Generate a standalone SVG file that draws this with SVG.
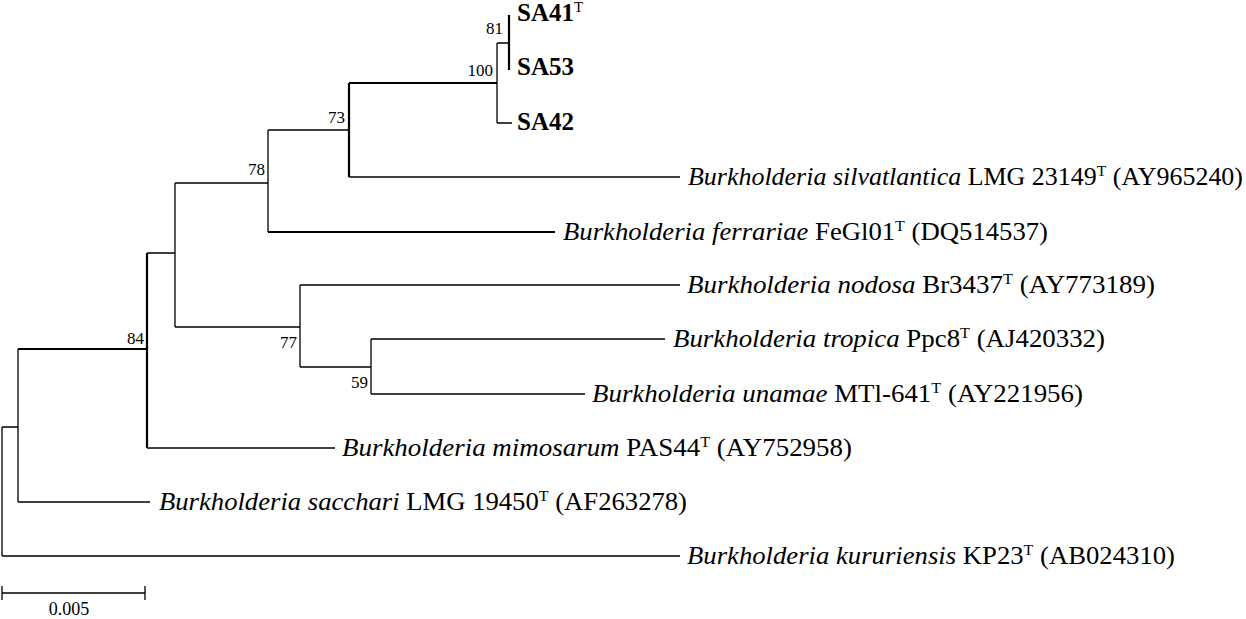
<svg xmlns="http://www.w3.org/2000/svg" width="1246" height="619" viewBox="0 0 1246 619">
<style>
.t{font-family:"Liberation Serif","Times New Roman",serif;font-size:25px;fill:#000}
.b{font-weight:bold}
.i{font-style:italic}
.s{font-size:15px;font-weight:normal}
.n{font-family:"Liberation Serif","Times New Roman",serif;font-size:17px;fill:#000;text-anchor:end}
.l{stroke:#000;stroke-width:1.3;fill:none}
.k{stroke:#000;stroke-width:2.2;fill:none}
</style>
<rect width="1246" height="619" fill="#fff"/>
<g id="connectors">
<path class="l" d="M2,427V556M2,427H18M2,556H680"/>
<path class="l" d="M18,349V502M18,502H150"/>
<path class="k" d="M18,349H147M147,253V448"/>
<path class="l" d="M147,253H175M147,448H335"/>
<path class="l" d="M175,183V327M175,183H268M175,327H300"/>
<path class="l" d="M268,130V232M268,130H349"/>
<path class="k" d="M268,232H555"/>
<path class="k" d="M349,83V177M349,83H497"/>
<path class="l" d="M349,177H680"/>
<path class="l" d="M497,43V123M497,43H509M497,123H512"/>
<path class="k" d="M509,15V70"/>
<path class="l" d="M300,285V367M300,285H680M300,367H371"/>
<path class="l" d="M371,339V394M371,339H665M371,394H585"/>
</g>
<g id="bootstrap">
<text class="n" x="503" y="34">81</text>
<text class="n" x="493" y="76">100</text>
<text class="n" x="345" y="123">73</text>
<text class="n" x="265" y="175">78</text>
<text class="n" x="144" y="344">84</text>
<text class="n" x="297" y="348">77</text>
<text class="n" x="368" y="388">59</text>
</g>
<g id="SA41"><text class="t b" x="517" y="21">SA41<tspan class="s" dy="-9">T</tspan></text></g>
<g id="SA53"><text class="t b" x="517" y="75">SA53</text></g>
<g id="SA42"><text class="t b" x="517" y="130">SA42</text></g>
<g id="silvatlantica"><text class="t" x="688" y="185" textLength="555" lengthAdjust="spacingAndGlyphs"><tspan class="i">Burkholderia silvatlantica</tspan> LMG 23149<tspan class="s" dy="-9">T</tspan><tspan dy="9"> (AY965240)</tspan></text></g>
<g id="ferrariae"><text class="t" x="563" y="240" textLength="485" lengthAdjust="spacingAndGlyphs"><tspan class="i">Burkholderia ferrariae</tspan> FeGl01<tspan class="s" dy="-9">T</tspan><tspan dy="9"> (DQ514537)</tspan></text></g>
<g id="nodosa"><text class="t" x="687" y="293" textLength="468" lengthAdjust="spacingAndGlyphs"><tspan class="i">Burkholderia nodosa</tspan> Br3437<tspan class="s" dy="-9">T</tspan><tspan dy="9"> (AY773189)</tspan></text></g>
<g id="tropica"><text class="t" x="673" y="347" textLength="432" lengthAdjust="spacingAndGlyphs"><tspan class="i">Burkholderia tropica</tspan> Ppc8<tspan class="s" dy="-9">T</tspan><tspan dy="9"> (AJ420332)</tspan></text></g>
<g id="unamae"><text class="t" x="592" y="402" textLength="491" lengthAdjust="spacingAndGlyphs"><tspan class="i">Burkholderia unamae</tspan> MTl-641<tspan class="s" dy="-9">T</tspan><tspan dy="9"> (AY221956)</tspan></text></g>
<g id="mimosarum"><text class="t" x="342" y="456" textLength="510" lengthAdjust="spacingAndGlyphs"><tspan class="i">Burkholderia mimosarum</tspan> PAS44<tspan class="s" dy="-9">T</tspan><tspan dy="9"> (AY752958)</tspan></text></g>
<g id="sacchari"><text class="t" x="159" y="510" textLength="528" lengthAdjust="spacingAndGlyphs"><tspan class="i">Burkholderia sacchari</tspan> LMG 19450<tspan class="s" dy="-9">T</tspan><tspan dy="9"> (AF263278)</tspan></text></g>
<g id="kururiensis"><text class="t" x="687" y="564" textLength="488" lengthAdjust="spacingAndGlyphs"><tspan class="i">Burkholderia kururiensis</tspan> KP23<tspan class="s" dy="-9">T</tspan><tspan dy="9"> (AB024310)</tspan></text></g>
<g id="scalebar">
<path class="l" d="M2,593H145M2,586V600M145,586V600"/>
<text class="t" x="69" y="615" style="font-size:18px;text-anchor:middle">0.005</text>
</g>
</svg>
